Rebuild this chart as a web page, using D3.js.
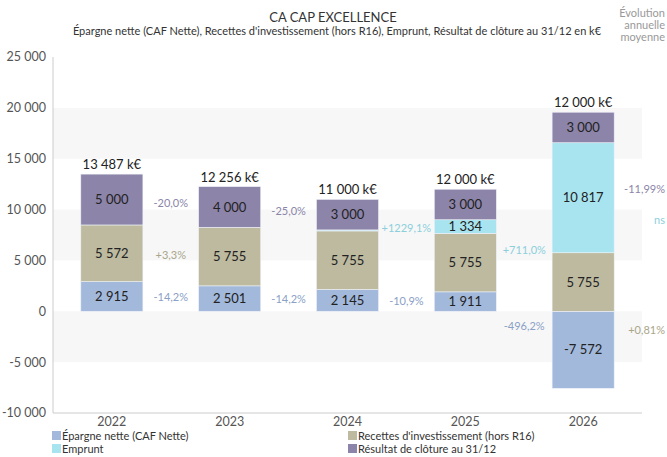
<!DOCTYPE html>
<html>
<head>
<meta charset="utf-8">
<script src="https://cdn.jsdelivr.net/npm/d3@7"></script>
<style>
  body { margin: 0; background: #fff; }
  svg { font-family: Lato, "Open Sans", sans-serif; }
</style>
</head>
<body>
<svg id="chart" width="667" height="457"></svg>
<script>
const years = ["2022", "2023", "2024", "2025", "2026"];
const series = ["Épargne nette (CAF Nette)", "Recettes d'investissement (hors R16)", "Emprunt", "Résultat de clôture au 31/12"];
const epargne = [2915, 2501, 2145, 1911, -7572];
const recettes = [5572, 5755, 5755, 5755, 5755];
const emprunt = [0, 0, 100, 1334, 10817];
const resultat = [5000, 4000, 3000, 3000, 3000];
const totals = ["13 487 k€", "12 256 k€", "11 000 k€", "12 000 k€", "12 000 k€"];
// growth labels between consecutive years, per series (null = hidden)
const growthEpargne = ["-14,2%", "-14,2%", "-10,9%", "-496,2%"];
const growthRecettes = ["+3,3%", null, null, null];
const growthEmprunt = [null, null, "+1229,1%", "+711,0%"];
const growthResultat = ["-20,0%", "-25,0%", null, null];
// average annual evolution, per series
const avgEvolution = [null, "+0,81%", "ns", "-11,99%"];
const yTicks = [-10000, -5000, 0, 5000, 10000, 15000, 20000, 25000];

const colors = ["#a3b9db", "#bdbaa0", "#a8e4f0", "#8c84a9"];
const labelColors = ["#8aa0c6", "#a9a68a", "#8ccfdc", "#8b85a8"];

const margin = { top: 57, right: 25, bottom: 44, left: 53 };
const width = 667 - margin.left - margin.right;
const height = 457 - margin.top - margin.bottom;

const svg = d3.select("#chart");
const g = svg.append("g").attr("transform", `translate(${margin.left},${margin.top})`);

const x = d3.scaleBand().domain(years).range([0, width]).paddingInner(0.473).paddingOuter(0.236);
const y = d3.scaleLinear().domain([-10000, 25000]).range([height, 0]);

// alternating bands
const bandEdges = d3.range(20000, -10000, -5000);
g.selectAll(".band")
  .data(bandEdges.filter((d, i) => i % 2 === 0))
  .join("rect")
  .attr("class", "band")
  .attr("x", 0)
  .attr("width", width)
  .attr("y", (d) => y(d))
  .attr("height", (d) => y(d - 5000) - y(d))
  .attr("fill", "#f7f7f7");

// axes lines
g.append("line").attr("x1", 0).attr("x2", 0).attr("y1", 0).attr("y2", height).attr("stroke", "#ccc");
g.append("line").attr("x1", 0).attr("x2", width).attr("y1", height).attr("y2", height).attr("stroke", "#ccc");

g.selectAll(".ytick")
  .data(yTicks)
  .join("text")
  .attr("class", "ytick")
  .attr("x", -7)
  .attr("y", (d) => y(d))
  .attr("dy", "0.35em")
  .attr("text-anchor", "end")
  .attr("font-size", 12.5)
  .attr("fill", "#555")
  .text((d) => d3.format(",")(d).replace(/,/g, " ").replace("−", "-"));

g.selectAll(".xtick")
  .data(years)
  .join("text")
  .attr("class", "xtick")
  .attr("x", (d) => x(d) + x.bandwidth() / 2)
  .attr("y", height + 13)
  .attr("text-anchor", "middle")
  .attr("font-size", 12.5)
  .attr("fill", "#555")
  .text((d) => d);

// stacked segments (positive up from 0, negative down from 0)
const values = [epargne, recettes, emprunt, resultat];
const segs = [];
const naive = []; // naive cumulative midpoints / tops used for label placement
years.forEach((yr, i) => {
  let pos = 0, neg = 0, cum = 0;
  values.forEach((arr, s) => {
    const v = arr[i];
    let y0, y1;
    if (v >= 0) { y0 = pos; y1 = pos + v; pos = y1; }
    else { y0 = neg + v; y1 = neg; neg = y0; }
    segs.push({ year: yr, s: s, v: v, y0: y0, y1: y1 });
    naive.push({ i: i, s: s, mid: cum + v / 2, top: cum + v });
    cum += v;
  });
});

g.selectAll(".seg")
  .data(segs.filter((d) => d.v !== 0))
  .join("rect")
  .attr("class", "seg")
  .attr("x", (d) => x(d.year))
  .attr("width", x.bandwidth())
  .attr("y", (d) => y(d.y1))
  .attr("height", (d) => y(d.y0) - y(d.y1))
  .attr("fill", (d) => colors[d.s])
  .attr("stroke", "#eef2f8")
  .attr("stroke-width", 0.6);

g.selectAll(".segLabel")
  .data(segs.filter((d) => Math.abs(d.v) >= 500))
  .join("text")
  .attr("class", "segLabel")
  .attr("x", (d) => x(d.year) + x.bandwidth() / 2)
  .attr("y", (d) => y((d.y0 + d.y1) / 2))
  .attr("dy", "0.35em")
  .attr("text-anchor", "middle")
  .attr("font-size", 13)
  .attr("fill", "#222")
  .text((d) => d3.format(",")(d.v).replace(/,/g, " ").replace("−", "-"));

g.selectAll(".total")
  .data(years)
  .join("text")
  .attr("class", "total")
  .attr("x", (d) => x(d) + x.bandwidth() / 2)
  .attr("y", (d, i) => y(d3.sum(values, (a) => Math.max(0, a[i]))) - 5)
  .attr("text-anchor", "middle")
  .attr("font-size", 13)
  .attr("fill", "#222")
  .text((d, i) => totals[i]);

// growth labels
const growth = [growthEpargne, growthRecettes, growthEmprunt, growthResultat];
const growthData = [];
growth.forEach((arr, s) => {
  arr.forEach((lbl, i) => {
    if (!lbl) return;
    const a = naive.find((n) => n.i === i && n.s === s).mid;
    const b = naive.find((n) => n.i === i + 1 && n.s === s).mid;
    growthData.push({ s: s, i: i, lbl: lbl, v: (a + b) / 2 });
  });
});
g.selectAll(".growth")
  .data(growthData)
  .join("text")
  .attr("class", "growth")
  .attr("x", (d) => (x(years[d.i]) + x(years[d.i + 1]) + x.bandwidth()) / 2)
  .attr("y", (d) => y(d.v))
  .attr("dy", "0.35em")
  .attr("text-anchor", "middle")
  .attr("font-size", 11)
  .attr("fill", (d) => labelColors[d.s])
  .text((d) => d.lbl);

// average annual evolution on the right
const last = years.length - 1;
g.selectAll(".avg")
  .data(avgEvolution.map((lbl, s) => ({ lbl: lbl, s: s })).filter((d) => d.lbl))
  .join("text")
  .attr("class", "avg")
  .attr("x", 667 - margin.left - 2)
  .attr("y", (d) => y(naive.find((n) => n.i === last && n.s === d.s).top))
  .attr("dy", "0.35em")
  .attr("text-anchor", "end")
  .attr("font-size", 11)
  .attr("fill", (d) => labelColors[d.s])
  .text((d) => d.lbl);

// titles
svg.append("text").attr("x", 333).attr("y", 22).attr("text-anchor", "middle")
  .attr("font-size", 13).attr("fill", "#333").text("CA CAP EXCELLENCE");
svg.append("text").attr("x", 337).attr("y", 35).attr("text-anchor", "middle")
  .attr("font-size", 11).attr("fill", "#333")
  .text("Épargne nette (CAF Nette), Recettes d'investissement (hors R16), Emprunt, Résultat de clôture au 31/12 en k€");
svg.append("text").attr("text-anchor", "end").attr("font-size", 11).attr("fill", "#999")
  .selectAll("tspan")
  .data(["Évolution", "annuelle", "moyenne"])
  .join("tspan")
  .attr("x", 665)
  .attr("y", (d, i) => 17 + i * 12)
  .text((d) => d);

// legend
const legend = svg.append("g");
const legPos = [[52, 436], [348, 436], [52, 449], [348, 449]];
series.forEach((name, s) => {
  const item = legend.append("g").attr("transform", `translate(${legPos[s][0]},${legPos[s][1]})`);
  item.append("rect").attr("x", 0).attr("y", -5).attr("width", 9).attr("height", 9).attr("fill", colors[s]);
  item.append("text").attr("x", 10).attr("y", 0).attr("dy", "0.35em")
    .attr("font-size", 11).attr("fill", "#333").text(name);
});
</script>
</body>
</html>
